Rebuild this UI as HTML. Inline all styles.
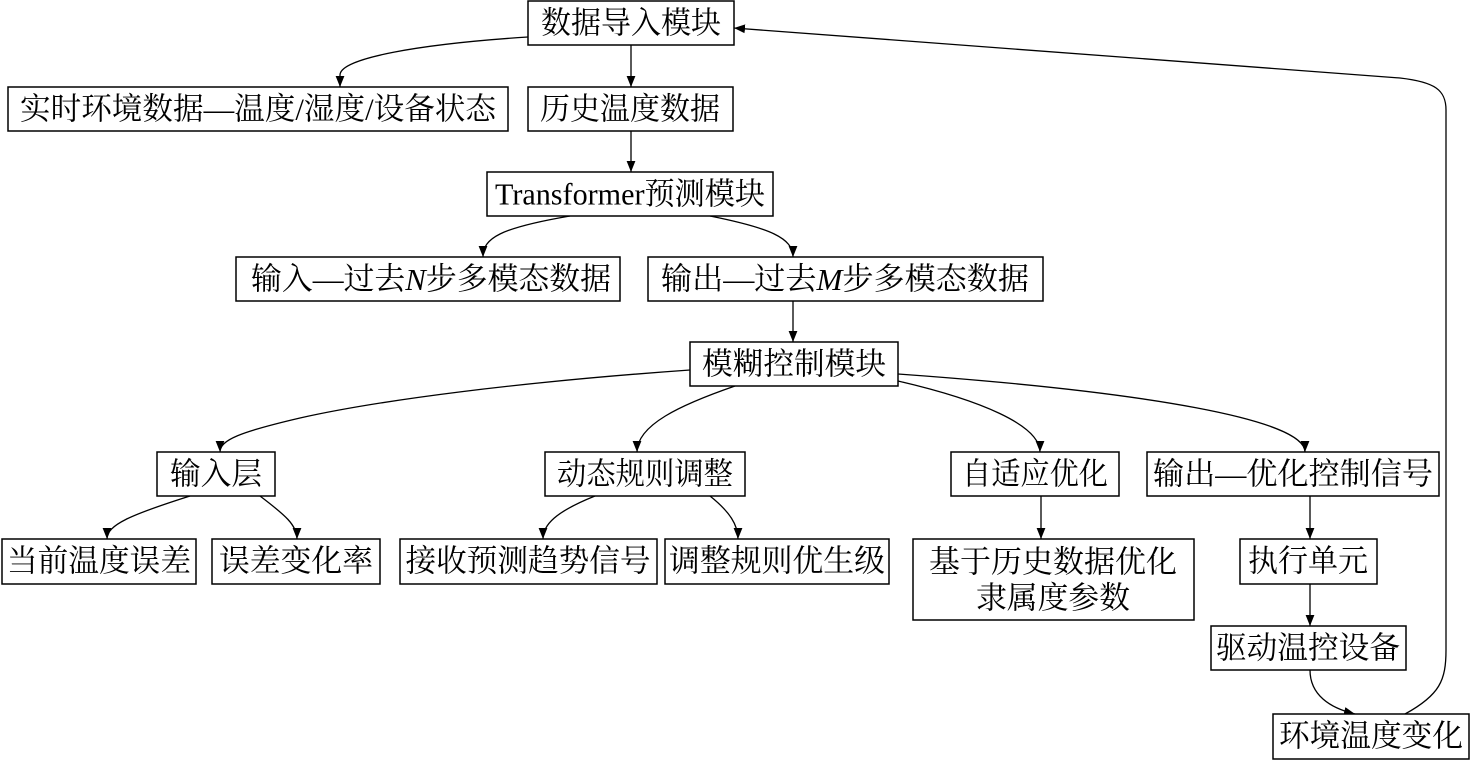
<!DOCTYPE html>
<html><head><meta charset="utf-8"><style>
html,body{margin:0;padding:0;background:#fff;}
svg{display:block;}
text{font-family:"Liberation Serif","Noto Serif CJK SC",serif;font-size:31px;fill:#000;text-anchor:middle;dominant-baseline:central;}
rect{fill:#fff;stroke:#000;stroke-width:1.5;}
path{fill:none;stroke:#000;stroke-width:1.3;}
</style></head><body>
<svg width="1471" height="763" viewBox="0 0 1471 763" xmlns="http://www.w3.org/2000/svg">
<defs><marker id="a" viewBox="0 0 10 10" refX="10" refY="5" markerWidth="11" markerHeight="11" markerUnits="userSpaceOnUse" orient="auto"><path d="M0,1 L10,5 L0,9 Z" style="fill:#000;stroke:none"/></marker></defs>
<g marker-end="url(#a)">
<path d="M631,45 L631,87"/>
<path d="M528,37 C420,44 340,58 340,75 L340,87"/>
<path d="M631,131 L631,172"/>
<path d="M570,216 C500,228 483,238 483,257"/>
<path d="M710,216 C770,228 793,238 793,257"/>
<path d="M793,301 L793,342"/>
<path d="M690,370 C520,382 380,400 300,418 C240,432 220,440 220,452"/>
<path d="M735,386 C680,405 637,425 637,452"/>
<path d="M898,381 C980,400 1040,425 1040,452"/>
<path d="M898,374 C1150,392 1305,420 1305,452"/>
<path d="M190,496 C130,515 107,525 107,539"/>
<path d="M260,496 C285,515 297,525 297,539"/>
<path d="M595,496 C555,512 543,525 543,539"/>
<path d="M710,496 C730,512 738,525 738,539"/>
<path d="M1041,496 L1041,539"/>
<path d="M1310,496 L1310,539"/>
<path d="M1310,584 L1310,626"/>
<path d="M1310,670 C1310,695 1330,708 1355,714"/>
<path d="M1405,714 C1440,695 1446,680 1446,650 L1446,110 C1446,90 1435,82 1400,78 L734,28"/>
</g>
<rect x="528" y="1" width="206" height="44"/><text x="631" y="23" textLength="180" lengthAdjust="spacingAndGlyphs">数据导入模块</text>
<rect x="8" y="87" width="500" height="44"/><text x="258" y="109" textLength="476" lengthAdjust="spacingAndGlyphs">实时环境数据—温度/湿度/设备状态</text>
<rect x="528" y="87" width="205" height="44"/><text x="630" y="109" textLength="180" lengthAdjust="spacingAndGlyphs">历史温度数据</text>
<rect x="487" y="172" width="286" height="44"/><text x="630" y="194" textLength="270" lengthAdjust="spacingAndGlyphs">Transformer预测模块</text>
<rect x="236" y="257" width="384" height="44"/><text x="431" y="279" textLength="360" lengthAdjust="spacingAndGlyphs">输入—过去<tspan font-style="italic">N</tspan>步多模态数据</text>
<rect x="648" y="257" width="395" height="44"/><text x="845" y="279" textLength="368" lengthAdjust="spacingAndGlyphs">输出—过去<tspan font-style="italic">M</tspan>步多模态数据</text>
<rect x="690" y="342" width="208" height="44"/><text x="794" y="364" textLength="184" lengthAdjust="spacingAndGlyphs">模糊控制模块</text>
<rect x="157" y="452" width="118" height="44"/><text x="216" y="474" textLength="92" lengthAdjust="spacingAndGlyphs">输入层</text>
<rect x="545" y="452" width="200" height="44"/><text x="645" y="474" textLength="176" lengthAdjust="spacingAndGlyphs">动态规则调整</text>
<rect x="951" y="452" width="168" height="44"/><text x="1035" y="474" textLength="146" lengthAdjust="spacingAndGlyphs">自适应优化</text>
<rect x="1147" y="452" width="292" height="44"/><text x="1293" y="474" textLength="280" lengthAdjust="spacingAndGlyphs">输出—优化控制信号</text>
<rect x="2" y="539" width="194" height="45"/><text x="99" y="561" textLength="184" lengthAdjust="spacingAndGlyphs">当前温度误差</text>
<rect x="212" y="539" width="168" height="45"/><text x="296" y="561" textLength="154" lengthAdjust="spacingAndGlyphs">误差变化率</text>
<rect x="400" y="539" width="257" height="45"/><text x="528" y="561" textLength="245" lengthAdjust="spacingAndGlyphs">接收预测趋势信号</text>
<rect x="665" y="539" width="224" height="45"/><text x="777" y="561" textLength="216" lengthAdjust="spacingAndGlyphs">调整规则优生级</text>
<rect x="913" y="539" width="281" height="81"/><text x="1053" y="562" textLength="248" lengthAdjust="spacingAndGlyphs">基于历史数据优化</text><text x="1053" y="598" textLength="154" lengthAdjust="spacingAndGlyphs">隶属度参数</text>
<rect x="1240" y="539" width="137" height="45"/><text x="1308" y="561" textLength="120" lengthAdjust="spacingAndGlyphs">执行单元</text>
<rect x="1211" y="626" width="195" height="44"/><text x="1308" y="648" textLength="184" lengthAdjust="spacingAndGlyphs">驱动温控设备</text>
<rect x="1273" y="714" width="196" height="45"/><text x="1371" y="736" textLength="184" lengthAdjust="spacingAndGlyphs">环境温度变化</text>
</svg>
</body></html>
